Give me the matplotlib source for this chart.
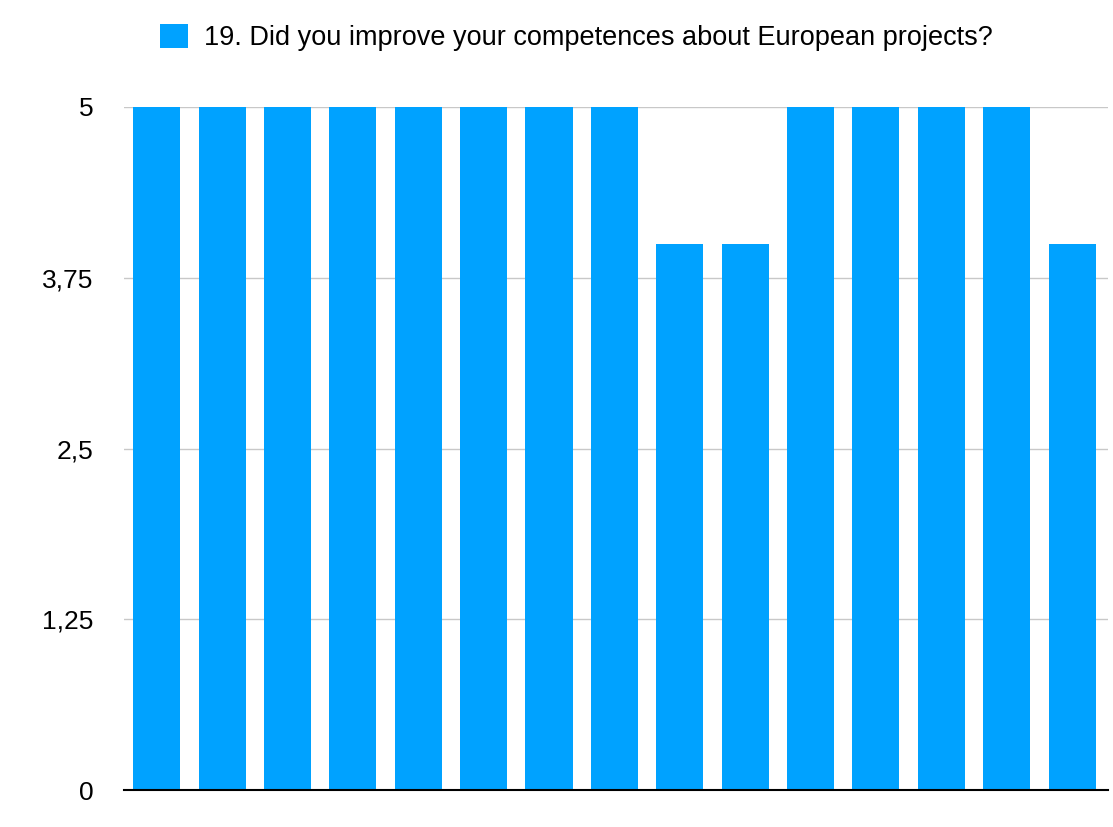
import matplotlib.pyplot as plt
import numpy as np

# data
respondents = list(range(1, 16))
answers = [5, 5, 5, 5, 5, 5, 5, 5, 4, 4, 5, 5, 5, 5, 4]
yticks = [0, 1.25, 2.5, 3.75, 5]
ytick_labels = ['0', '1,25', '2,5', '3,75', '5']
series_name = '19. Did you improve your competences about European projects?'

plt.rcParams['font.family'] = ['Liberation Sans', 'DejaVu Sans']

fig = plt.figure(figsize=(11.13, 8.27), dpi=100)
ax = fig.add_axes([124 / 1113, 1 - 790 / 827, (1108 - 124) / 1113, (790 - 107) / 827])

x = np.arange(len(respondents))
bars = ax.bar(x, answers, width=0.72, color='#00A2FF', label=series_name, zorder=2)

ax.set_xlim(-0.5, len(respondents) - 0.45)
ax.set_ylim(0, 5)
ax.set_yticks(yticks)
ax.set_yticklabels(ytick_labels)
ax.set_xticks([])
ax.tick_params(axis='y', length=0, pad=22, labelsize=19)
ax.grid(axis='y', color='#C8C8C8', linewidth=1, zorder=0)
for s in ['top', 'right', 'left']:
    ax.spines[s].set_visible(False)
ax.spines['bottom'].set_color('black')
ax.spines['bottom'].set_linewidth(1.5)
ax.spines['bottom'].set_zorder(3)

fig.legend(handles=[bars], labels=[series_name], loc='center',
           bbox_to_anchor=(0.518, 0.955), frameon=False, fontsize=19.5,
           handlelength=1.0, handleheight=1.0, handletextpad=0.6)

fig.savefig('out.png', dpi=100)
